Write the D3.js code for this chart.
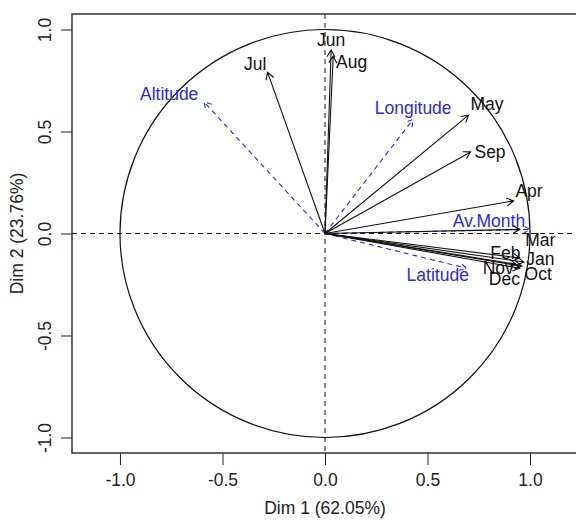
<!DOCTYPE html>
<html>
<head>
<meta charset="utf-8">
<script src="https://cdn.jsdelivr.net/npm/d3@7"></script>
<style>
  body { margin: 0; background: #fff; }
  svg text { font-family: "Liberation Sans", Arial, sans-serif; }
</style>
</head>
<body>
<div id="chart"></div>
<script>
// active variables (months), coordinates on Dim 1 / Dim 2
const months = ['Jan', 'Feb', 'Mar', 'Apr', 'May', 'Jun', 'Jul', 'Aug', 'Sep', 'Oct', 'Nov', 'Dec'];
const monthDim1 = [0.97, 0.95, 0.95, 0.92, 0.70, 0.03, -0.28, 0.04, 0.71, 0.96, 0.93, 0.95];
const monthDim2 = [-0.14, -0.12, 0.02, 0.16, 0.58, 0.90, 0.79, 0.87, 0.40, -0.16, -0.15, -0.17];
// where R put the labels after its overlap fixing (data units)
const monthLabelX = [1.05, 0.88, 1.05, 0.995, 0.79, 0.03, -0.34, 0.13, 0.805, 1.04, 0.845, 0.875];
const monthLabelY = [-0.125, -0.095, -0.03, 0.21, 0.635, 0.95, 0.83, 0.84, 0.40, -0.20, -0.17, -0.225];

// supplementary variables (blue, dashed)
const supps = ['Altitude', 'Longitude', 'Latitude', 'Av.Month'];
const suppDim1 = [-0.59, 0.43, 0.69, 1.0];
const suppDim2 = [0.645, 0.56, -0.17, 0.02];
const suppLabelX = [-0.76, 0.43, 0.55, 0.80];
const suppLabelY = [0.685, 0.615, -0.205, 0.06];

const ticks = [-1, -0.5, 0, 0.5, 1];
const xTitle = 'Dim 1 (62.05%)';
const yTitle = 'Dim 2 (23.76%)';

const W = 576, H = 520;
const margin = {top: 14, right: -2, bottom: 67, left: 72};
const fontSize = '17.5px';

const svg = d3.select('#chart').append('svg')
    .attr('width', W)
    .attr('height', H);

const x = d3.scaleLinear()
    .domain([-1.234, 1.234])
    .range([margin.left, W - margin.right]);
const y = d3.scaleLinear()
    .domain([-1.076, 1.076])
    .range([H - margin.bottom, margin.top]);

// axes
const xAxis = svg.append('g')
    .attr('transform', `translate(0,${y.range()[0]})`)
    .call(d3.axisBottom(x).tickValues(ticks).tickFormat(d => d.toFixed(1)).tickSize(12).tickPadding(9));
const yAxis = svg.append('g')
    .attr('transform', `translate(${x.range()[0]},0)`)
    .call(d3.axisLeft(y).tickValues(ticks).tickFormat(d => d.toFixed(1)).tickSize(11));
[xAxis, yAxis].forEach(g => {
    g.select('.domain').remove();
    g.selectAll('line').attr('stroke', '#222');
    g.selectAll('text').attr('fill', '#222').style('font-size', fontSize);
});
yAxis.selectAll('.tick text')
    .attr('x', 0).attr('y', 0)
    .attr('text-anchor', 'middle')
    .attr('dy', null)
    .attr('transform', 'translate(-27,0) rotate(-90)')
    .attr('dominant-baseline', 'central');

// box
svg.append('rect')
    .attr('x', x.range()[0])
    .attr('y', y.range()[1])
    .attr('width', x.range()[1] - x.range()[0])
    .attr('height', y.range()[0] - y.range()[1])
    .attr('fill', 'none')
    .attr('stroke', '#333')
    .attr('stroke-width', 1.5);

// dashed reference lines
svg.append('line')
    .attr('x1', x.range()[0]).attr('x2', x.range()[1])
    .attr('y1', y(0)).attr('y2', y(0))
    .attr('stroke', '#111').attr('stroke-dasharray', '5,4');
svg.append('line')
    .attr('x1', x(0)).attr('x2', x(0))
    .attr('y1', y.range()[1]).attr('y2', y.range()[0])
    .attr('stroke', '#111').attr('stroke-dasharray', '5,4');

// unit circle
svg.append('ellipse')
    .attr('cx', x(0)).attr('cy', y(0))
    .attr('rx', x(1) - x(0)).attr('ry', y(0) - y(1))
    .attr('fill', 'none')
    .attr('stroke', '#111')
    .attr('stroke-width', 1.2);

function arrowPath(x0, y0, x1, y1) {
    const ang = Math.atan2(y1 - y0, x1 - x0);
    const len = 8, spread = Math.PI / 6;
    const a1 = [x1 - len * Math.cos(ang - spread), y1 - len * Math.sin(ang - spread)];
    const a2 = [x1 - len * Math.cos(ang + spread), y1 - len * Math.sin(ang + spread)];
    return `M${x0},${y0}L${x1},${y1}M${a1[0]},${a1[1]}L${x1},${y1}L${a2[0]},${a2[1]}`;
}

function drawVars(names, d1, d2, lx, ly, color, dash) {
    const g = svg.append('g');
    g.selectAll('path')
        .data(names)
        .join('path')
        .attr('d', (d, i) => arrowPath(x(0), y(0), x(d1[i]), y(d2[i])))
        .attr('fill', 'none')
        .attr('stroke', color)
        .attr('stroke-width', 1.1)
        .attr('stroke-dasharray', dash);
    g.selectAll('text')
        .data(names)
        .join('text')
        .attr('x', (d, i) => x(lx[i]))
        .attr('y', (d, i) => y(ly[i]))
        .attr('text-anchor', 'middle')
        .attr('dominant-baseline', 'central')
        .attr('fill', color)
        .style('font-size', fontSize)
        .text(d => d);
}

drawVars(supps, suppDim1, suppDim2, suppLabelX, suppLabelY, '#2b2bdb', '5,4');
drawVars(months, monthDim1, monthDim2, monthLabelX, monthLabelY, '#111', null);

// axis titles
svg.append('text')
    .attr('x', x(0))
    .attr('y', 508)
    .attr('text-anchor', 'middle')
    .attr('dominant-baseline', 'central')
    .attr('fill', '#222')
    .style('font-size', fontSize)
    .text(xTitle);
svg.append('text')
    .attr('transform', `translate(17,${y(0)}) rotate(-90)`)
    .attr('text-anchor', 'middle')
    .attr('dominant-baseline', 'central')
    .attr('fill', '#222')
    .style('font-size', fontSize)
    .text(yTitle);
</script>
</body>
</html>
